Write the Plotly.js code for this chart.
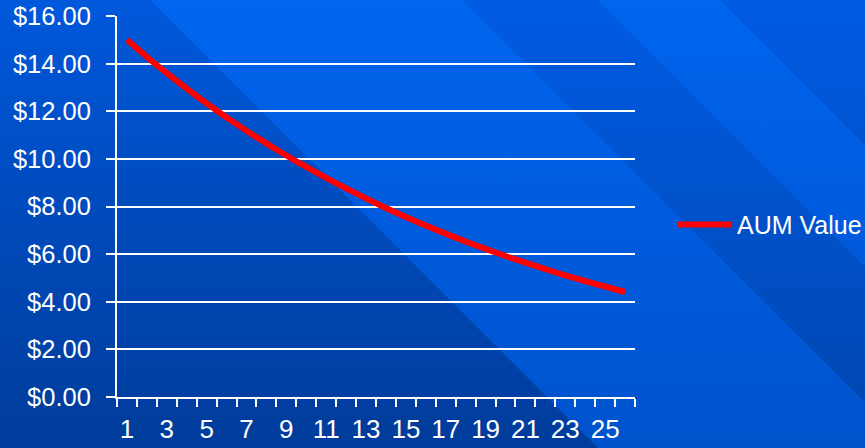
<!DOCTYPE html>
<html>
<head>
<meta charset="utf-8">
<script src="https://cdn.plot.ly/plotly-3.0.1.min.js"></script>
<style>
  html, body { margin: 0; padding: 0; width: 865px; height: 448px; overflow: hidden; }
  #wrap { position: relative; width: 865px; height: 448px; background: linear-gradient(to bottom, #0058db 0%, #003c9a 100%); overflow: hidden; }
  .band { position: absolute; left: 0; top: 0; width: 865px; height: 448px; }
  .light { background: linear-gradient(to bottom, #0065ef 0%, #0052cc 100%); }
  .mid { background: linear-gradient(to bottom, #005be3 0%, #0046ae 100%); }
  #chart { position: absolute; left: 0; top: 0; width: 865px; height: 448px; }
</style>
</head>
<body>
<div id="wrap">
  <div class="band light" style="clip-path: polygon(150px 0, 463px 0, 911px 448px, 598px 448px);"></div>
  <div class="band mid" style="clip-path: polygon(463px 0, 598px 0, 1046px 448px, 911px 448px);"></div>
  <div class="band light" style="clip-path: polygon(598px 0, 720px 0, 1168px 448px, 1046px 448px);"></div>
  <div class="band mid" style="clip-path: polygon(720px 0, 2000px 0, 2000px 448px, 1168px 448px);"></div>
  <div id="chart"></div>
</div>
<script>
// Periods (x categories)
const periods = [1,2,3,4,5,6,7,8,9,10,11,12,13,14,15,16,17,18,19,20,21,22,23,24,25,26];
// AUM Value series
const aumValue = [15.00,14.28,13.60,12.95,12.33,11.74,11.18,10.65,10.14,9.66,9.20,8.76,8.34,7.94,7.56,7.20,6.86,6.53,6.22,5.92,5.64,5.37,5.11,4.87,4.64,4.41];
// Tick labels shown on the x axis
const xTickLabels = [1,3,5,7,9,11,13,15,17,19,21,23,25];
const seriesName = 'AUM Value';

const font = 'Arial, "Liberation Sans", sans-serif';

const trace = {
  x: periods,
  y: aumValue,
  type: 'scatter',
  mode: 'lines',
  name: seriesName,
  line: { color: '#ff0000', width: 6, shape: 'spline', smoothing: 0.6 },
  hoverinfo: 'x+y'
};

const layout = {
  width: 865,
  height: 448,
  margin: { l: 117, r: 230, t: 16, b: 51, pad: 0, autoexpand: false },
  paper_bgcolor: 'rgba(0,0,0,0)',
  plot_bgcolor: 'rgba(0,0,0,0)',
  font: { family: font, color: '#ffffff', size: 25 },
  showlegend: true,
  legend: {
    x: 1.0714, xanchor: 'left',
    y: 0.452, yanchor: 'middle',
    itemwidth: 55,
    bgcolor: 'rgba(0,0,0,0)',
    font: { family: font, size: 25, color: '#ffffff' }
  },
  xaxis: {
    range: [0.5, 26.5],
    tickmode: 'array',
    tickvals: xTickLabels,
    ticktext: xTickLabels.map(String),
    ticks: '',
    showgrid: false,
    zeroline: false,
    showline: true,
    linecolor: '#ffffff',
    linewidth: 2,
    ticklabelstandoff: 8,
    tickfont: { family: font, size: 26, color: '#ffffff' },
    minor: { tick0: 0.5, dtick: 1, ticks: 'outside', ticklen: 8, tickwidth: 2, tickcolor: '#ffffff', showgrid: false }
  },
  yaxis: {
    range: [0, 16],
    dtick: 2,
    tick0: 0,
    tickprefix: '$',
    tickformat: '.2f',
    ticks: 'outside',
    ticklen: 9,
    tickwidth: 2,
    tickcolor: '#ffffff',
    showgrid: true,
    gridcolor: '#ffffff',
    gridwidth: 2,
    zeroline: false,
    showline: true,
    linecolor: '#ffffff',
    linewidth: 2,
    ticklabelstandoff: 10,
    tickfont: { family: font, size: 25.5, color: '#ffffff' }
  }
};

Plotly.newPlot('chart', [trace], layout, { displayModeBar: false, staticPlot: true });
</script>
</body>
</html>
